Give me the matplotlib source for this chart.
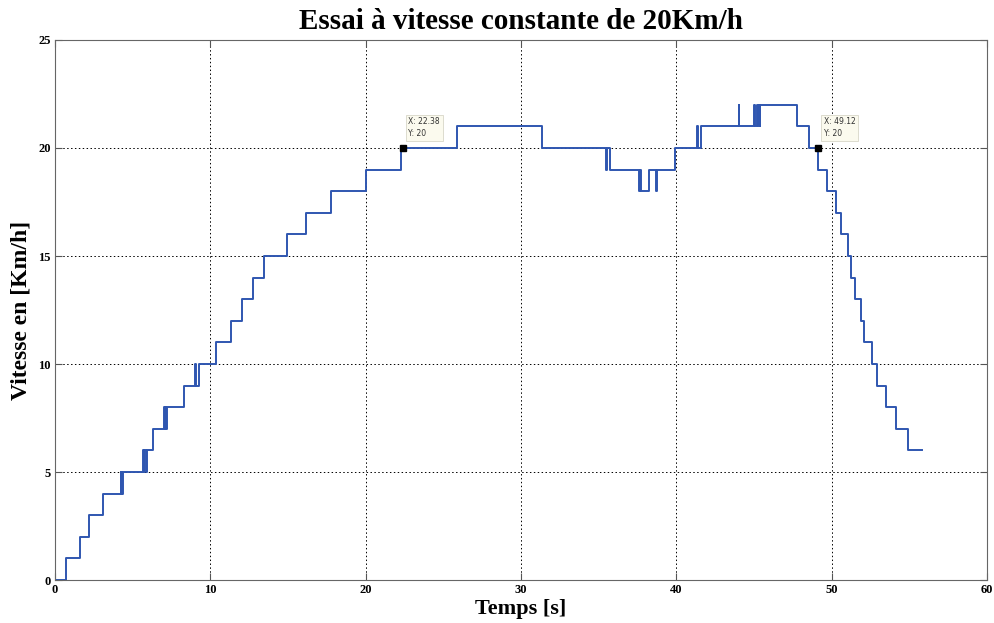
import matplotlib
matplotlib.use("Agg")
import matplotlib.pyplot as plt

# Step change times (s) and the speed level (km/h) reached at each time
times = [0.00, 0.71, 1.61, 2.21, 3.11,
         4.22, 4.26, 4.30, 4.34, 4.38,
         5.65, 5.70, 5.74, 5.86, 5.90,
         6.33,
         7.02, 7.06, 7.10, 7.14, 7.18,
         8.30,
         9.02, 9.06, 9.30,
         10.36, 11.31, 12.02, 12.73, 13.46, 14.92, 16.14, 17.77, 20.02, 22.30,
         25.90, 31.37,
         35.45, 35.52, 35.72,
         37.60, 37.66, 37.72, 38.26,
         38.67, 38.78,
         39.92,
         41.35, 41.42, 41.59,
         44.00, 44.06,
         45.00, 45.06, 45.20, 45.26, 45.32, 45.36, 45.39,
         47.75, 48.56, 49.14, 49.68, 50.28, 50.60, 51.03, 51.22, 51.48,
         51.91, 52.08, 52.60, 52.92, 53.52, 54.12, 54.90, 55.80]
speeds = [0, 1, 2, 3, 4,
          5, 4, 5, 4, 5,
          6, 5, 6, 5, 6,
          7,
          8, 7, 8, 7, 8,
          9,
          10, 9, 10,
          11, 12, 13, 14, 15, 16, 17, 18, 19, 20,
          21, 20,
          19, 20, 19,
          18, 19, 18, 19,
          18, 19,
          20,
          21, 20, 21,
          22, 21,
          22, 21, 22, 21, 22, 21, 22,
          21, 20, 19, 18, 17, 16, 15, 14, 13,
          12, 11, 10, 9, 8, 7, 6, 6]

tip_x = [22.38, 49.12]
tip_y = [20, 20]

title = "Essai à vitesse constante de 20Km/h"
xlabel = "Temps [s]"
ylabel = "Vitesse en [Km/h]"
xticks = [0, 10, 20, 30, 40, 50, 60]
yticks = [0, 5, 10, 15, 20, 25]

serif = ["Liberation Serif", "DejaVu Serif"]

fig = plt.figure(figsize=(9.95, 6.23), dpi=100)
ax = fig.add_axes([0.0553, 0.069, 0.9367, 0.8668])

ax.plot(times, speeds, drawstyle="steps-post", color="#2f56b0", lw=1.4)

for x, y in zip(tip_x, tip_y):
    ax.plot([x], [y], marker="s", color="black", ms=5, ls="none", zorder=5)
    ax.annotate(f"X: {x:.2f}\nY: {y}", xy=(x, y), xytext=(4, 7),
                textcoords="offset points", fontsize=5.5, family="DejaVu Sans",
                color="#333333", va="bottom", ha="left", linespacing=1.4,
                bbox=dict(boxstyle="square,pad=0.35", fc="#fbfaee", ec="#d8d6c8", lw=0.6),
                zorder=6)

ax.set_xlim(0, 60)
ax.set_ylim(0, 25)
ax.set_xticks(xticks)
ax.set_yticks(yticks)
ax.grid(True, color="black", linestyle=(0, (1.5, 2.5)), linewidth=0.7)
ax.tick_params(direction="in", length=5, width=0.8, color="#555555",
               top=True, right=True, labelsize=9, pad=3)
for lab in ax.get_xticklabels() + ax.get_yticklabels():
    lab.set_fontfamily(serif)
    lab.set_fontweight("bold")
for s in ax.spines.values():
    s.set_color("#666666")
    s.set_linewidth(0.8)

ax.set_title(title, fontsize=21, fontweight="bold", family=serif, pad=8)
ax.set_xlabel(xlabel, fontsize=16, fontweight="bold", family=serif, labelpad=2)
ax.set_ylabel(ylabel, fontsize=17, fontweight="bold", family=serif, labelpad=5)

fig.savefig("out.png", dpi=100)
